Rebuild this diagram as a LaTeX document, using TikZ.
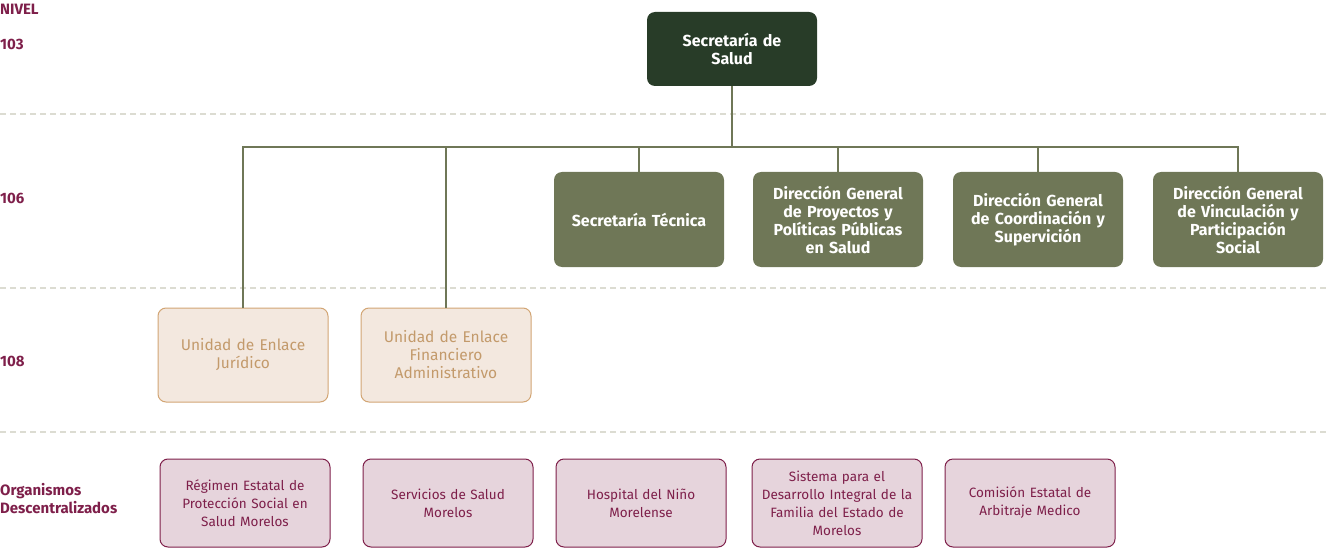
\documentclass[tikz,border=0pt]{standalone}
\usepackage{fontspec}
\setmainfont{Fira Sans}
\definecolor{verdeOscuro}{HTML}{283C28}
\definecolor{verdeOlivo}{HTML}{6F7757}
\definecolor{arena}{HTML}{F3E8DF}
\definecolor{arenaBorde}{HTML}{D2A574}
\definecolor{arenaTexto}{HTML}{C39A6B}
\definecolor{rosa}{HTML}{E6D4DC}
\definecolor{guinda}{HTML}{7E1F4A}
\definecolor{linea}{HTML}{DCDCD2}
\begin{document}
\begin{tikzpicture}[x=1pt,y=-1pt,
    caja/.style={rounded corners=8pt, minimum width=170pt, text width=166pt, align=center, inner sep=0pt},
    titular/.style={caja, fill=verdeOscuro, text=white, minimum height=74pt, font=\fontsize{16}{18}\selectfont\bfseries},
    direccion/.style={caja, fill=verdeOlivo, text=white, minimum height=95pt, font=\fontsize{16}{18}\selectfont\bfseries},
    unidad/.style={caja, fill=arena, draw=arenaBorde, line width=1pt, text=arenaTexto, minimum height=94pt, font=\fontsize{15.5}{18}\selectfont},
    organismo/.style={caja, fill=rosa, draw=guinda, line width=1pt, text=guinda, minimum height=88pt, font=\fontsize{13.5}{18}\selectfont},
    nivel/.style={anchor=west, inner sep=0pt, text=guinda, align=left, font=\fontsize{15}{18}\selectfont\bfseries},
    division/.style={linea, line width=1.5pt, dash pattern=on 6pt off 4pt},
    conector/.style={verdeOlivo, line width=2pt}]
    \useasboundingbox (0,0) rectangle (1329,548);

    % Divisiones entre niveles
    \draw[division] (0,114) -- (1329,114);
    \draw[division] (0,288) -- (1329,288);
    \draw[division] (0,432) -- (1329,432);

    % Niveles
    \node[nivel] (nivel) at (0,9) {NIVEL};
    \node[nivel] (n103) at (0,44) {103};
    \node[nivel] (n106) at (0,198) {106};
    \node[nivel] (n108) at (0,361) {108};
    \node[nivel] (nOrg) at (0,499) {Organismos\\Descentralizados};

    % Nivel 103
    \node[titular] (salud) at (732,49) {Secretaría de\\Salud};

    % Nivel 106
    \node[direccion] (tecnica) at (639,219.5) {Secretaría Técnica};
    \node[direccion] (proyectos) at (838,219.5) {Dirección General\\de Proyectos y\\Políticas Públicas\\en Salud};
    \node[direccion] (coordinacion) at (1038,219.5) {Dirección General\\de Coordinación y\\Supervición};
    \node[direccion] (vinculacion) at (1238,219.5) {Dirección General\\de Vinculación y\\Participación\\Social};

    % Nivel 108
    \node[unidad] (juridico) at (243,355) {Unidad de Enlace\\Jurídico};
    \node[unidad] (financiero) at (446,355) {Unidad de Enlace\\Financiero\\Administrativo};

    % Organismos descentralizados
    \node[organismo] (regimen) at (245,503) {Régimen Estatal de\\Protección Social en\\Salud Morelos};
    \node[organismo] (servicios) at (448,503) {Servicios de Salud\\Morelos};
    \node[organismo] (hospital) at (641,503) {Hospital del Niño\\Morelense};
    \node[organismo] (dif) at (837,503) {Sistema para el\\Desarrollo Integral de la\\Familia del Estado de\\Morelos};
    \node[organismo] (arbitraje) at (1030,503) {Comisión Estatal de\\Arbitraje Medico};

    % Conectores
    \coordinate (bus) at (salud.south |- 0,147);
    \draw[conector] (salud.south) -- (bus);
    \foreach \hijo in {juridico,financiero,tecnica,proyectos,coordinacion,vinculacion}
        \draw[conector] (bus) -| (\hijo.north);
\end{tikzpicture}
\end{document}
